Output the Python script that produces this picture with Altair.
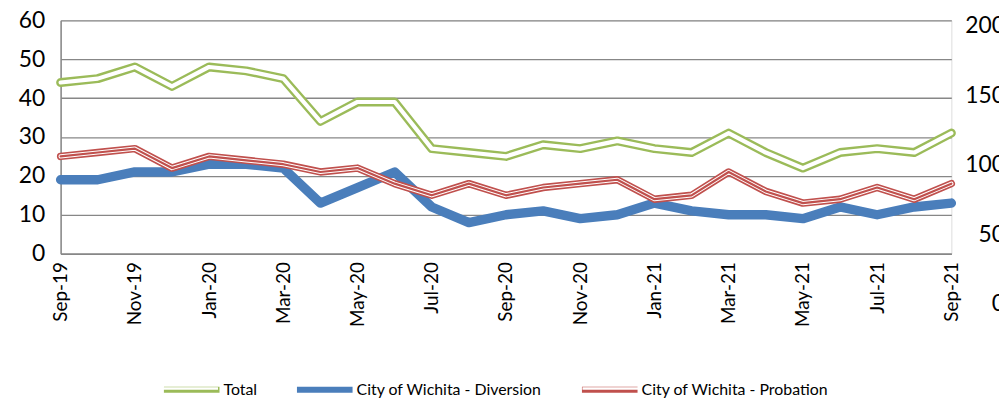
import altair as alt
import pandas as pd

months = ["Sep-19", "Oct-19", "Nov-19", "Dec-19", "Jan-20", "Feb-20", "Mar-20",
          "Apr-20", "May-20", "Jun-20", "Jul-20", "Aug-20", "Sep-20", "Oct-20",
          "Nov-20", "Dec-20", "Jan-21", "Feb-21", "Mar-21", "Apr-21", "May-21",
          "Jun-21", "Jul-21", "Aug-21", "Sep-21"]
total = [44, 45, 48, 43, 48, 47, 45, 34, 39, 39, 27, 26, 25, 28, 27, 29, 27, 26,
         31, 26, 22, 26, 27, 26, 31]
diversion = [19, 19, 21, 21, 23, 23, 22, 13, 17, 21, 12, 8, 10, 11, 9, 10, 13, 11,
             10, 10, 9, 12, 10, 12, 13]
probation = [25, 26, 27, 22, 25, 24, 23, 21, 22, 18, 15, 18, 15, 17, 18, 19, 14, 15,
             21, 16, 13, 14, 17, 14, 18]
series_names = ["Total", "City of Wichita - Diversion", "City of Wichita - Probation"]
series_colors = ["#9bbb59", "#4a7ebb", "#c0504d"]
left_ticks = [0, 10, 20, 30, 40, 50, 60]
right_ticks = [0, 50, 100, 150, 200]
x_labels = months[::2]

rows = []
for name, vals in zip(series_names, [total, diversion, probation]):
    for m, v in zip(months, vals):
        rows.append({"month": m, "series": name, "s2": name, "s3": name, "value": v})
df = pd.DataFrame(rows)
right_df = pd.DataFrame({"tick": right_ticks, "label": [str(t) for t in right_ticks]})

FONT = "Lato"
GRAY = "#878787"
W, H = 897, 235

x_enc = alt.X("month:N", sort=months, scale=alt.Scale(type="point", padding=0),
              axis=alt.Axis(values=x_labels, labelAngle=270, title=None, labelPadding=8,
                            ticks=False, grid=False, domainColor=GRAY, domainWidth=1.5,
                            labelFontSize=19, labelColor="black", labelFont=FONT))
y_enc = alt.Y("value:Q", scale=alt.Scale(domain=[0, 60], nice=False),
              axis=alt.Axis(values=left_ticks, title=None, grid=True, ticks=False,
                            labelPadding=16, labelFontSize=23, labelColor="black",
                            labelFont=FONT, gridColor=GRAY, gridWidth=1.3,
                            domainColor=GRAY, domainWidth=1.5))

leg_common = dict(orient="none", legendX=101, legendY=341, direction="horizontal",
                  title=None, symbolType="stroke", symbolSize=3136, labelOffset=1,
                  labelFont=FONT, labelFontSize=16, padding=0, labelLimit=400)

color_enc = alt.Color("series:N", sort=series_names,
                      scale=alt.Scale(domain=series_names, range=series_colors),
                      legend=alt.Legend(symbolStrokeWidth=6, labelColor="black",
                                        columnPadding=28, **leg_common))

base = alt.Chart(df).encode(x=x_enc, y=y_enc)
line_kw = dict(strokeJoin="round", strokeCap="round")

total_wide = base.transform_filter(alt.datum.series == "Total").mark_line(
    strokeWidth=9, **line_kw).encode(color=color_enc)
div_line = base.transform_filter(alt.datum.series == "City of Wichita - Diversion").mark_line(
    strokeWidth=9.5, **line_kw).encode(color=color_enc)
prob_wide = base.transform_filter(alt.datum.series == "City of Wichita - Probation").mark_line(
    strokeWidth=7.5, **line_kw).encode(color=color_enc)

white_inner = base.mark_line(color="white", strokeWidth=4.2, **line_kw).encode(
    opacity=alt.Opacity("s2:N",
                        scale=alt.Scale(type="ordinal", domain=series_names,
                                        range=[1, 0.001, 1]),
                        legend=alt.Legend(symbolStrokeWidth=2.5, symbolStrokeColor="white",
                                          labelOpacity=0, columnPadding=37, **leg_common)),
    detail="series:N")
red_center = base.mark_line(color="#c0504d", strokeWidth=2.2, **line_kw).encode(
    opacity=alt.Opacity("s3:N",
                        scale=alt.Scale(type="ordinal", domain=series_names, range=[0, 0, 1]),
                        legend=None),
    detail="series:N")

main = alt.layer(total_wide, div_line, prob_wide, white_inner, red_center).resolve_scale(
    opacity="independent").resolve_legend(opacity="independent")

right_axis = alt.Chart(right_df).mark_text(
    align="right", baseline="middle", fontSize=23, font=FONT, color="black").encode(
    x=alt.value(W + 54),
    y=alt.Y("tick:Q", scale=alt.Scale(domain=[36.4, 204.3], nice=False, zero=False),
            axis=None),
    text="label:N")

chart = alt.layer(main, right_axis).resolve_scale(y="independent").properties(
    width=W, height=H,
    padding={"left": 53, "top": 11, "right": 48, "bottom": 146},
    autosize=alt.AutoSizeParams(type="none"),
).configure_view(strokeWidth=0).configure(font=FONT)

chart.save("out.html", embed_options={"renderer": "svg", "actions": False})
